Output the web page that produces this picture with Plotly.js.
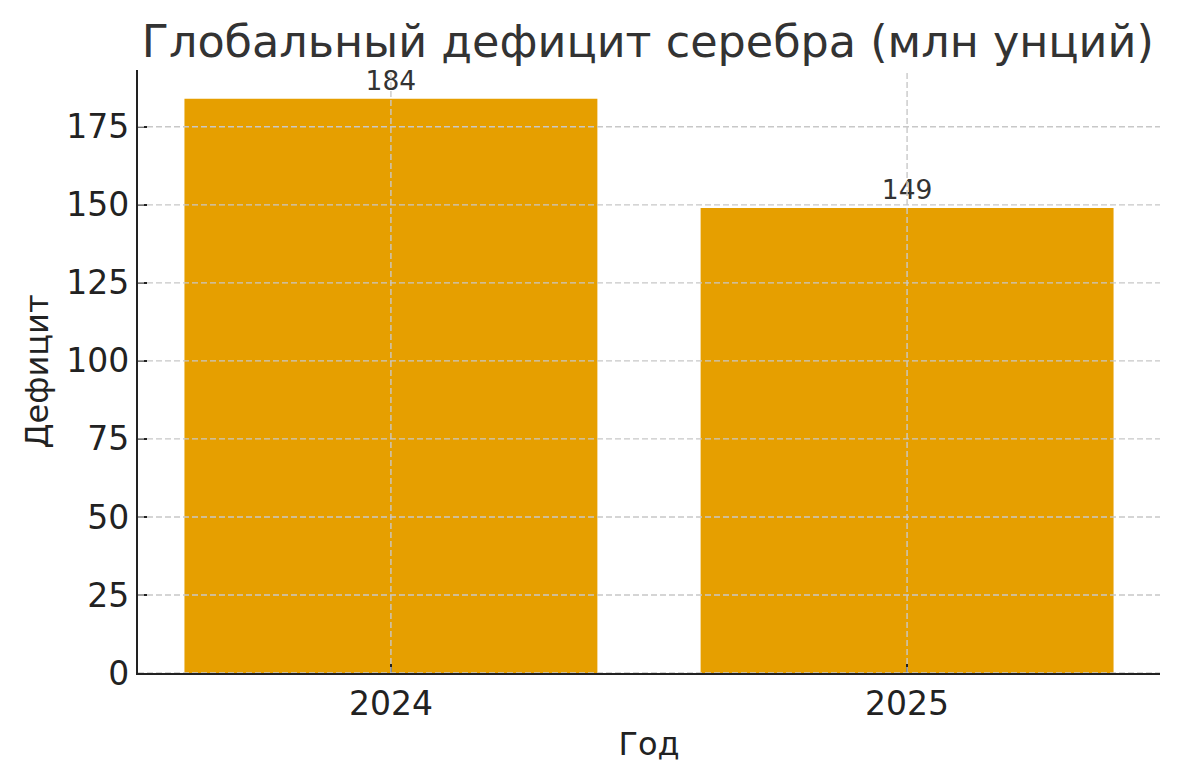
<!DOCTYPE html>
<html><head><meta charset="utf-8">
<script src="https://cdn.plot.ly/plotly-3.0.1.min.js"></script>
<style>html,body{margin:0;padding:0;background:#fff}#c{width:1180px;height:780px}</style>
</head><body><div id="c"></div>
<script>
const years = ['2024', '2025'];
const deficit = [184, 149];
const yTicks = [0, 25, 50, 75, 100, 125, 150, 175];

const gridStyle = {color: '#c8c8c8', width: 1.4, dash: '6px,3px'};
const shapes = [];
yTicks.forEach(v => shapes.push({type: 'line', layer: 'above', xref: 'paper', x0: 0, x1: 1, yref: 'y', y0: v, y1: v, line: gridStyle}));
years.forEach((c, i) => shapes.push({type: 'line', layer: 'above', xref: 'x', x0: i, x1: i, yref: 'paper', y0: 0, y1: 1, line: gridStyle}));

const trace = {
  type: 'bar', x: years, y: deficit, width: 0.8,
  marker: {color: '#E69F00', line: {width: 0}},
  text: deficit.map(String), textposition: 'outside', cliponaxis: false,
  textfont: {family: 'DejaVu Sans', size: 26.5, color: '#333333'},
  hoverinfo: 'none'
};
const layout = {
  width: 1180, height: 780,
  margin: {l: 138, r: 20, t: 70, b: 107},
  paper_bgcolor: '#fff', plot_bgcolor: '#fff',
  font: {family: 'DejaVu Sans', color: '#222222'},
  title: {text: 'Глобальный дефицит серебра (млн унций)', font: {size: 44.5, color: '#333333'},
          x: 0.549, xanchor: 'center', y: 0.967, yanchor: 'top'},
  showlegend: false,
  shapes: shapes,
  xaxis: {type: 'category', range: [-0.49, 1.49], showgrid: false,
          showline: true, linecolor: '#222', linewidth: 2.2, ticks: 'inside', ticklen: 9, tickwidth: 2.2, tickcolor: '#222',
          tickfont: {size: 33, color: '#222'}, title: {text: 'Год', font: {size: 32, color: '#222'}, standoff: 11},
          layer: 'above traces', zeroline: false},
  yaxis: {range: [0, 193.2], tickvals: yTicks, ticktext: yTicks.map(String), showgrid: false,
          showline: true, linecolor: '#222', linewidth: 2.2, ticks: 'inside', ticklen: 9, tickwidth: 2.2, tickcolor: '#222',
          tickfont: {size: 33, color: '#222'}, title: {text: 'Дефицит', font: {size: 32, color: '#222'}, standoff: 8},
          layer: 'above traces', zeroline: false}
};
Plotly.newPlot('c', [trace], layout, {staticPlot: true, displayModeBar: false});
</script></body></html>
